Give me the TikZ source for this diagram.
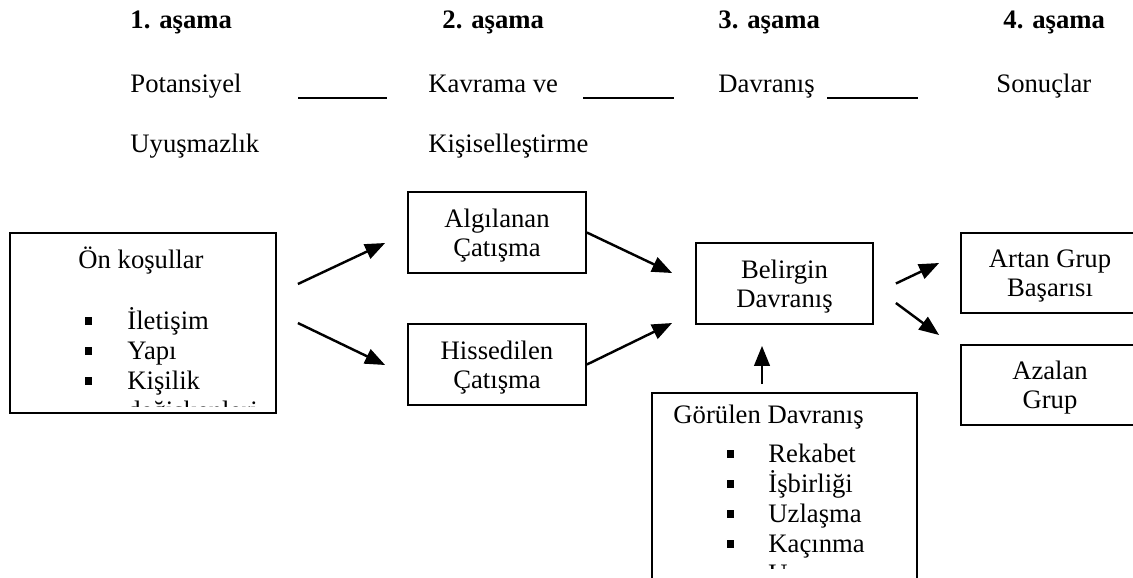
\documentclass[tikz,border=0pt]{standalone}
\usepackage{fontspec}
\setmainfont{Liberation Serif}
\usetikzlibrary{arrows.meta, calc}
\newcommand\pxu{0.45pt}

\begin{document}
\begin{tikzpicture}[
  x=0.45pt, y=-0.45pt,
  font=\fontsize{12}{13}\selectfont,
  box/.style={draw, line width=0.8pt, align=center, inner sep=0pt, text depth=0pt},
  head/.style={anchor=base west, inner sep=0pt, font=\fontsize{12}{13}\selectfont\bfseries},
  stage/.style={anchor=base west, inner sep=0pt},
  listitem/.style={anchor=base west, inner sep=0pt},
  bul/.style={fill, minimum size=3.2pt, inner sep=0pt},
  ar/.style={-{Triangle[length=9pt, width=7pt]}, line width=1.1pt},
  rule/.style={line width=0.9pt}
]
  \useasboundingbox (0,0) rectangle (1133,577);
  \clip (0,0) rectangle (1133,577);

  % stage headings
  \node[head] (h1) at (130,28)  {1. aşama};
  \node[head] (h2) at (442,28)  {2. aşama};
  \node[head] (h3) at (718,28)  {3. aşama};
  \node[head] (h4) at (1003,28) {4. aşama};

  \node[stage] (pot) at (130,92)  {Potansiyel};
  \node[stage] (uyu) at (130,152) {Uyuşmazlık};
  \node[stage] (kav) at (428,92)  {Kavrama ve};
  \node[stage] (kis) at (428,152) {Kişiselleştirme};
  \node[stage] (dav) at (718,92)  {Davranış};
  \node[stage] (son) at (996,92)  {Sonuçlar};

  % short rules between the stages
  \coordinate (r1a) at (298,98); \coordinate (r1b) at (387,98);
  \coordinate (r2a) at (583,98); \coordinate (r2b) at (674,98);
  \coordinate (r3a) at (827,98); \coordinate (r3b) at (918,98);
  \draw[rule] (r1a) -- (r1b);
  \draw[rule] (r2a) -- (r2b);
  \draw[rule] (r3a) -- (r3b);

  % boxes
  \node[box, minimum width=266*\pxu, minimum height=180*\pxu] (pre) at (143,323) {};
  \node[box, minimum width=178*\pxu, minimum height=81*\pxu] (alg) at (497,232.5) {Algılanan\\Çatışma};
  \node[box, minimum width=178*\pxu, minimum height=81*\pxu] (his) at (497,364.5) {Hissedilen\\Çatışma};
  \node[box, minimum width=177*\pxu, minimum height=81*\pxu] (bel) at (784.5,283.5) {Belirgin\\Davranış};
  \node[box, minimum width=265*\pxu, minimum height=254*\pxu] (gor) at (784.5,520) {};
  \node[box, minimum width=178*\pxu, minimum height=80*\pxu] (art) at (1050,273) {Artan Grup\\Başarısı};
  \node[box, minimum width=178*\pxu, minimum height=80*\pxu] (aza) at (1050,385) {Azalan\\Grup};

  % contents of the first box, cut off at its bottom
  \node[listitem] (onk) at (78,268) {Ön koşullar};
  \begin{scope}
    \clip (pre.north west) rectangle ($(pre.south east)+(0,-7)$);
    \foreach \t [count=\i] in {İletişim, Yapı, Kişilik} {
      \node[bul] (pb\i) at (88.5,291+30*\i) {};
      \node[listitem] (pi\i) at (127,299+30*\i) {\t};
    }
    \node[listitem] (pi4) at (127,419) {değişkenleri};
  \end{scope}

  % contents of the lower box, cut off at the bottom
  \node[listitem] (gtl) at (673,423) {Görülen Davranış};
  \begin{scope}
    \clip (gor.north west) rectangle (917,568);
    \foreach \t [count=\i] in {Rekabet, İşbirliği, Uzlaşma, Kaçınma, Uyma} {
      \node[bul] (gb\i) at (730.5,424+30*\i) {};
      \node[listitem] (gi\i) at (768,432+30*\i) {\t};
    }
  \end{scope}

  % arrows
  \draw[ar] ($(pre.east)+(21,-39)$) -- ($(alg.west)+(-22,10.5)$);
  \draw[ar] ($(pre.east)+(21,0)$)   -- ($(his.west)+(-22,0.5)$);
  \draw[ar] (alg.east) -- ($(bel.west)+(-23,-10.5)$);
  \draw[ar] (his.east) -- ($(bel.west)+(-23,39.5)$);
  \draw[ar] ($(bel.east)+(22,0)$)    -- ($(art.west)+(-21,-10)$);
  \draw[ar] ($(bel.east)+(22,19.5)$) -- ($(aza.west)+(-21,-50)$);
  \draw[ar] ($(gor.north)+(-22.5,-8)$) -- ($(bel.south)+(-22.5,21)$);
\end{tikzpicture}
\end{document}
